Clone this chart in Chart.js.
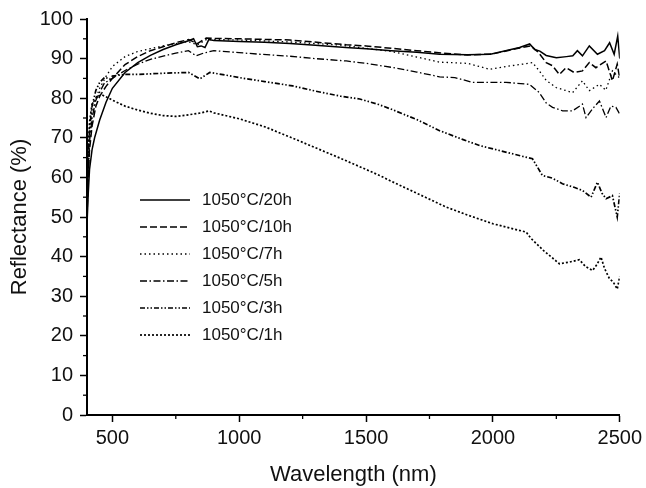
<!DOCTYPE html>
<html>
<head>
<meta charset="utf-8">
<script src="https://cdn.jsdelivr.net/npm/chart.js@4.4.1/dist/chart.umd.min.js"></script>
<style>
  body { margin: 0; background: #fff; }
  canvas { display: block; }
</style>
</head>
<body>
<canvas id="chart" width="646" height="488"></canvas>
<script>
// wavelength (nm) / reflectance (%)
const wl20 = [400,405,410,420,430,450,475,500,550,600,650,700,750,800,820,835,850,865,880,900,1000,1100,1200,1300,1420,1500,1600,1700,1790,1900,1990,2050,2105,2145,2165,2185,2210,2250,2290,2315,2333,2353,2380,2412,2440,2460,2478,2492,2500];
const r20  = [48,56,62,67,70,74.5,79,82.5,86.5,89,90.8,92.3,93.5,94.5,95,93,93.2,92.8,94.8,94.6,94.3,94.1,93.8,93.4,92.8,92.5,92,91.6,91.1,91,91.1,92,92.8,93.7,92.3,91.9,90.8,90.2,90.5,90.7,92,90.7,93.2,91.1,92,94,91.1,95.7,90];

const wl10 = [400,405,410,420,435,450,475,500,550,600,650,700,750,800,835,870,900,1000,1200,1422,1500,1600,1700,1800,1900,2000,2100,2150,2180,2210,2235,2262,2288,2320,2353,2380,2406,2446,2471,2490,2500];
const r10  = [50,60,67,73,78,80.5,83,85,88.5,90.5,92,93,94,94.8,93.8,95.2,95.1,95,94.7,93.5,93.2,92.6,92,91.4,90.9,91.2,92.6,93.2,91.5,89,88.2,86,87.7,86.5,86.9,89,87.7,89.4,84.4,88.6,85];

const wl7 = [400,405,410,420,435,450,475,500,550,600,650,700,750,800,835,870,900,1000,1200,1400,1500,1600,1700,1790,1900,1987,2050,2117,2156,2183,2210,2249,2314,2353,2380,2420,2445,2471,2498];
const r7  = [52,63,70,76,80,82.5,85.5,88,90.5,91.8,92.5,93.2,93.8,94.3,93.5,94.8,94.8,94.7,94.2,93.4,92.6,91.8,90.4,89.1,88.8,87.3,88,88.6,89,86.9,84.5,82.7,81.4,84.4,81.9,83.5,82,86.9,85.2];

const wl5 = [400,405,410,420,435,450,470,490,500,550,600,650,700,750,800,830,860,900,1000,1081,1200,1300,1422,1500,1600,1700,1790,1850,1920,2052,2144,2183,2210,2235,2275,2314,2353,2367,2395,2420,2446,2465,2485,2500];
const r5  = [52,62,69,75,79.5,81.5,84,84.5,85,87,88.6,89.8,90.6,91.4,92,90.7,91.4,92,91.5,91.1,90.6,90,89.4,88.8,87.8,86.6,85.4,85.2,84,84,83.5,81.4,78.8,77.7,76.8,76.8,78.5,75.1,77.5,79.3,75.1,78,77.7,76];

const wl3 = [400,405,410,420,435,450,470,490,500,550,600,700,800,845,884,950,1000,1100,1211,1300,1400,1475,1550,1600,1700,1790,1880,1950,2050,2156,2195,2235,2274,2320,2353,2387,2412,2430,2446,2471,2490,2500];
const r3  = [53,64,72,78,82,84,85.3,84.8,85.6,86,86,86.3,86.5,84.9,86.5,85.8,85.2,84.2,83.1,81.8,80.5,79.8,78.4,77.2,74.6,71.8,69.6,68,66.4,64.7,60.5,59.8,58.4,57.5,56.7,55,58.8,56,54.6,55.4,50,56];

const wl1 = [400,405,410,420,440,460,480,500,550,600,650,700,750,800,850,880,900,1000,1100,1200,1300,1400,1500,1553,1600,1700,1816,1900,2000,2080,2131,2150,2200,2262,2300,2341,2365,2393,2410,2426,2440,2459,2475,2490,2500];
const r1  = [55,67,74,78.5,80.5,80.8,80.2,79.5,78,77,76.2,75.6,75.4,75.8,76.3,76.8,76.3,74.8,72.8,70.2,67.5,64.8,62,60.5,59,56,52.5,50.5,48.3,47,46.2,44.6,41.5,38.2,38.6,39.2,37.5,36.5,38,39.9,37,34.5,33.5,31.8,35];

const seriesNames = ['1050°C/20h','1050°C/10h','1050°C/7h','1050°C/5h','1050°C/3h','1050°C/1h'];
const xTicks = [500,1000,1500,2000,2500];
const xMinor = [750,1250,1750,2250];
const yMinor = [5,15,25,35,45,55,65,75,85,95];

const FONT = "'Liberation Sans', Arial, sans-serif";

function pts(xs, ys) {
  return xs.map((x, i) => ({x: x, y: ys[i]}));
}

const styles = [
  {dash: [], width: 1.5},
  {dash: [7, 3], width: 1.5},
  {dash: [1.5, 3], width: 1.3},
  {dash: [7, 2.5, 1.5, 2.5], width: 1.3},
  {dash: [5, 2, 1.5, 2, 1.5, 2], width: 1.7},
  {dash: [2, 2], width: 1.7},
];

const allData = [pts(wl20, r20), pts(wl10, r10), pts(wl7, r7), pts(wl5, r5), pts(wl3, r3), pts(wl1, r1)];

const datasets = allData.map((d, i) => ({
  label: seriesNames[i],
  data: d,
  borderColor: '#000',
  borderWidth: styles[i].width,
  borderDash: styles[i].dash,
  pointRadius: 0,
  tension: 0,
  fill: false,
}));

// inside legend + minor ticks
const extras = {
  id: 'extras',
  afterDraw(chart) {
    const {ctx, chartArea, scales} = chart;
    ctx.save();
    ctx.strokeStyle = '#000';
    ctx.lineWidth = 1.3;
    xMinor.forEach(v => {
      const px = scales.x.getPixelForValue(v);
      ctx.beginPath();
      ctx.moveTo(px, chartArea.bottom);
      ctx.lineTo(px, chartArea.bottom + 4);
      ctx.stroke();
    });
    yMinor.forEach(v => {
      const py = scales.y.getPixelForValue(v);
      ctx.beginPath();
      ctx.moveTo(chartArea.left, py);
      ctx.lineTo(chartArea.left - 4, py);
      ctx.stroke();
    });

    ctx.font = '17px ' + FONT;
    ctx.fillStyle = '#111';
    ctx.textBaseline = 'middle';
    chart.data.datasets.forEach((ds, i) => {
      const y = chartArea.top + 181 + i * 27;
      const x0 = chartArea.left + 53;
      ctx.save();
      ctx.lineWidth = ds.borderWidth;
      ctx.setLineDash(ds.borderDash);
      ctx.beginPath();
      ctx.moveTo(x0, y);
      ctx.lineTo(x0 + 50, y);
      ctx.stroke();
      ctx.restore();
      ctx.fillText(ds.label, x0 + 62, y);
    });
    ctx.restore();
  }
};

new Chart(document.getElementById('chart'), {
  type: 'line',
  data: { datasets: datasets },
  options: {
    responsive: false,
    animation: false,
    devicePixelRatio: 1,
    layout: { padding: { top: 18, right: 23, left: 0, bottom: 0 } },
    plugins: {
      legend: { display: false },
      tooltip: { enabled: false },
    },
    scales: {
      x: {
        type: 'linear',
        min: 400,
        max: 2500,
        afterBuildTicks: s => { s.ticks = xTicks.map(v => ({value: v})); },
        afterFit: s => { s.height = 73; },
        ticks: { font: { family: FONT, size: 20 }, color: '#111', padding: 4, maxRotation: 0, autoSkip: false,
                 callback: v => String(v) },
        grid: { drawOnChartArea: false, drawTicks: true, tickLength: 7, tickWidth: 1.5, tickColor: '#000' },
        border: { color: '#000', width: 2 },
        title: { display: true, text: 'Wavelength (nm)', font: { family: FONT, size: 22 }, color: '#111', padding: 0 },
      },
      y: {
        min: 0,
        max: 100,
        afterFit: s => { s.width = 87; },
        ticks: { stepSize: 10, font: { family: FONT, size: 20 }, color: '#111', padding: 7 },
        grid: { drawOnChartArea: false, drawTicks: true, tickLength: 7, tickWidth: 1.5, tickColor: '#000' },
        border: { color: '#000', width: 2 },
        title: { display: true, text: 'Reflectance (%)', font: { family: FONT, size: 22 }, color: '#111', padding: { top: 7, bottom: 0 } },
      }
    }
  },
  plugins: [extras]
});
</script>
</body>
</html>
